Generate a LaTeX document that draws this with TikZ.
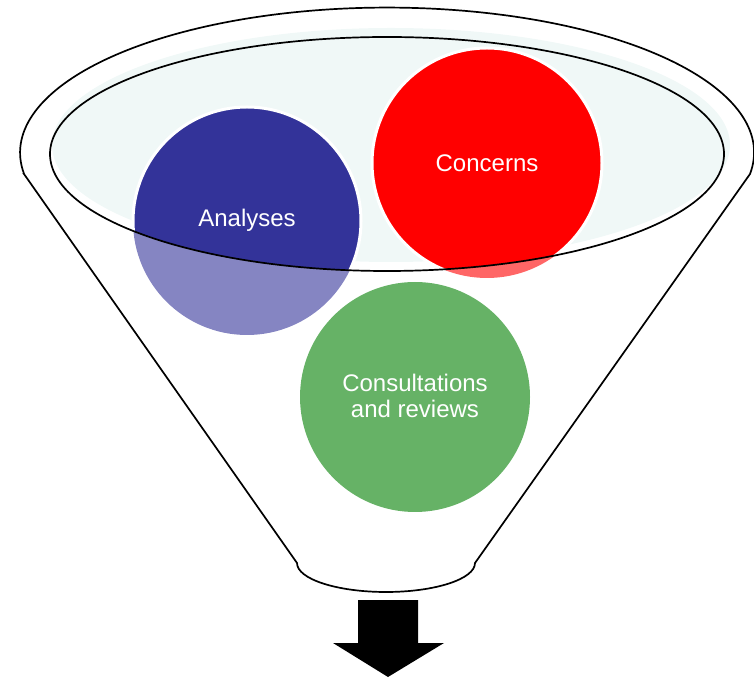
\documentclass[tikz,border=0pt]{standalone}
\usepackage{fontspec}
\setmainfont{Liberation Sans}

\definecolor{rimfill}{RGB}{240,248,247}
\definecolor{anablue}{RGB}{51,51,153}
\definecolor{anapale}{RGB}{133,133,194}
\definecolor{conred}{RGB}{255,0,0}
\definecolor{conpale}{RGB}{255,102,102}
\definecolor{revgreen}{RGB}{102,178,102}

\begin{document}
\begin{tikzpicture}[x=1pt,y=1pt,
	funnel/.style={draw=black, line width=1.7pt},
	bubble/.style={text=white, font=\fontsize{24}{26}\selectfont, align=center}]
\useasboundingbox (0,0) rectangle (754,677);

% funnel body
\draw[funnel] (24,503) -- (297,114) arc[start angle=180, end angle=360, x radius=89, y radius=29]
	-- (750,503) arc[start angle=-8.5, end angle=188.5, x radius=367, y radius=145] -- cycle;

% rim
\fill[rimfill] (391,532) ellipse[x radius=339, y radius=117];

% pale parts below the rim
\fill[anapale] (247,456) circle[radius=114];
\fill[conpale] (487,514) circle[radius=115];
\fill[revgreen] (415,280) circle[radius=115];

\begin{scope}
\clip (387,523) ellipse[x radius=337, y radius=117];
\filldraw[fill=anablue, draw=white, line width=3pt] (247,456) circle[radius=114];
\filldraw[fill=conred, draw=white, line width=3pt] (487,514) circle[radius=115];
\end{scope}

\draw[funnel] (387,523) ellipse[x radius=337, y radius=117];

% labels
\node[bubble] (analyses) at (247,457) {Analyses};
\node[bubble] (concerns) at (487,514) {Concerns};
\node[bubble] (reviews) at (415,281) {Consultations\\and reviews};

% outlet
\fill[black] (358,77) -- (418,77) -- (418,34) -- (444,34) -- (388,0) -- (333,34) -- (358,34) -- cycle;
\end{tikzpicture}
\end{document}
